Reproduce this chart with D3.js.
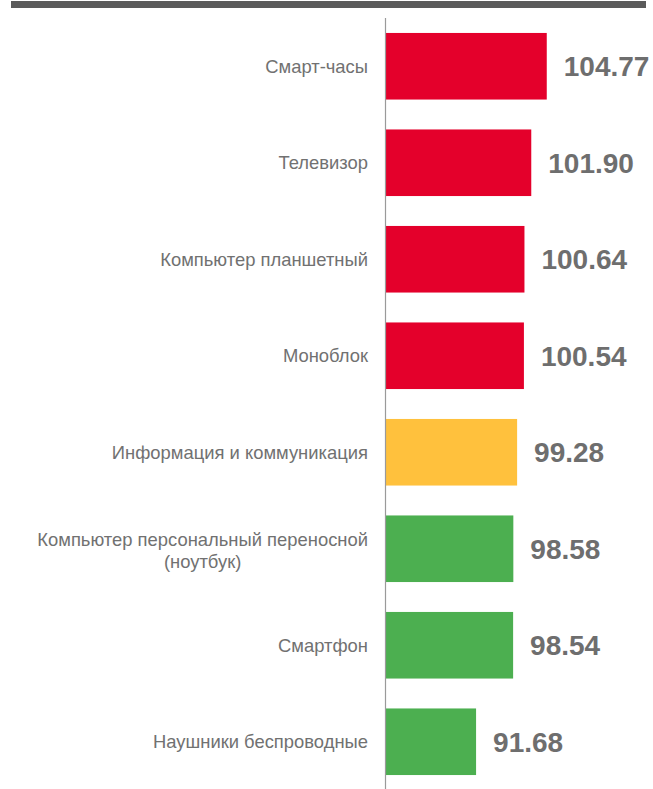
<!DOCTYPE html>
<html>
<head>
<meta charset="utf-8">
<script src="https://cdn.jsdelivr.net/npm/d3@7"></script>
<style>
  body { margin: 0; background: #fff; }
  svg { display: block; }
</style>
</head>
<body>
<svg id="chart" width="653" height="789"></svg>
<script>
// categories (top to bottom) and index values
var categories = [
    "Смарт-часы",
    "Телевизор",
    "Компьютер планшетный",
    "Моноблок",
    "Информация и коммуникация",
    "Компьютер персональный переносной|(ноутбук)",
    "Смартфон",
    "Наушники беспроводные"
];
var values = [104.77, 101.90, 100.64, 100.54, 99.28, 98.58, 98.54, 91.68];
var groups = ["up", "up", "up", "up", "avg", "down", "down", "down"];

var colors = {up: "#e4002b", avg: "#ffc13d", down: "#4caf50"};

var svg = d3.select("#chart");
var axisX = 386;

var x = d3.scaleLinear().domain([75, 105]).range([axisX, axisX + 30 * 5.4]);
var y = d3.scaleBand().domain(categories).range([18, 790])
    .paddingInner(0.31).paddingOuter(0.155);

// header rule
svg.append("rect")
    .attr("x", 11).attr("y", 1)
    .attr("width", 635).attr("height", 7)
    .attr("fill", "#5b5b5b");

var data = categories.map(function(c, i) {
    return {cat: c, value: values[i], group: groups[i]};
});

svg.append("g").selectAll("rect")
    .data(data)
    .enter().append("rect")
    .attr("x", x(75))
    .attr("y", function(d) { return y(d.cat); })
    .attr("width", function(d) { return x(d.value) - x(75); })
    .attr("height", y.bandwidth())
    .attr("fill", function(d) { return colors[d.group]; });

// axis line
svg.append("line")
    .attr("x1", axisX - 0.5).attr("x2", axisX - 0.5)
    .attr("y1", 18).attr("y2", 789)
    .attr("stroke", "#9a9a9a").attr("stroke-width", 1.2);

// category labels
var labels = svg.append("g").selectAll("text")
    .data(data)
    .enter().append("text")
    .attr("font-family", "Arial, 'Liberation Sans', sans-serif")
    .attr("font-size", 18.4)
    .attr("fill", "#717171")
    .attr("transform", function(d) {
        return "translate(368," + (y(d.cat) + y.bandwidth() / 2) + ")";
    });

labels.each(function(d) {
    var lines = d.cat.split("|");
    var t = d3.select(this);
    var lh = 22;
    var shift = lines.length > 1 ? 2 : 0;
    var first = null;
    lines.forEach(function(l, i) {
        var ts = t.append("tspan")
            .attr("x", 0)
            .attr("text-anchor", "end")
            .attr("y", (i - (lines.length - 1) / 2) * lh + shift)
            .attr("dy", "0.35em")
            .text(l);
        if (i == 0) first = ts;
        else {
            // later lines centred under the first line
            var w = first.node().getComputedTextLength();
            ts.attr("x", -w / 2).attr("text-anchor", "middle");
        }
    });
});

// value labels
svg.append("g").selectAll("text")
    .data(data)
    .enter().append("text")
    .attr("x", function(d) { return x(d.value) + 17; })
    .attr("y", function(d) { return y(d.cat) + y.bandwidth() / 2; })
    .attr("dy", "0.36em")
    .attr("font-family", "Arial, 'Liberation Sans', sans-serif")
    .attr("font-weight", "bold")
    .attr("font-size", 28)
    .attr("fill", "#6e6e6e")
    .text(function(d) { return d.value.toFixed(2); });
</script>
</body>
</html>
